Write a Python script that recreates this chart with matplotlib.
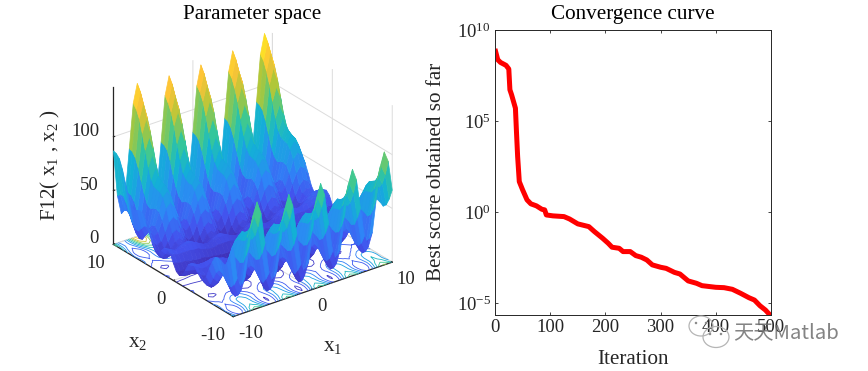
import numpy as np
from matplotlib import pyplot as plt
from matplotlib.colors import LinearSegmentedColormap
from matplotlib.patches import Ellipse
from matplotlib.ticker import LogFormatterMathtext

plt.rcParams['font.family'] = ['Liberation Serif', 'Noto Sans CJK SC']
plt.rcParams['mathtext.fontset'] = 'custom'
plt.rcParams['mathtext.rm'] = 'Liberation Serif'
plt.rcParams['mathtext.it'] = 'Liberation Serif'
plt.rcParams['mathtext.default'] = 'regular'
plt.rcParams['axes.unicode_minus'] = False

# convergence curve (log10 of the score)
iterations = [1, 5, 10, 20, 25, 27, 30, 37, 39, 41, 44, 50, 58, 65, 75, 85, 90, 93, 105, 125, 135, 150, 170, 180,
              195, 205, 212, 225, 232, 245, 255, 265, 275, 285, 300, 310, 325, 335, 350, 365, 375, 400, 415, 430,
              445, 460, 470, 480, 490, 500]
log_scores = [8.83, 8.37, 8.22, 8.06, 7.86, 6.72, 6.45, 5.71, 4.34, 3.06, 1.68, 1.23, 0.68, 0.46, 0.35, 0.16, 0.13,
              -0.15, -0.20, -0.24, -0.37, -0.64, -0.79, -1.06, -1.43, -1.70, -1.92, -1.98, -2.16, -2.16, -2.38,
              -2.47, -2.62, -2.89, -3.02, -3.08, -3.30, -3.39, -3.77, -3.90, -4.03, -4.12, -4.14, -4.23, -4.45,
              -4.69, -4.82, -5.13, -5.37, -5.70]

x_ticks_3d = [-10, 0, 10]
x_labels_3d = ['-10', '0', '10']
z_ticks_3d = [0, 50, 100]
z_labels_3d = ['0', '50', '100']
iter_ticks = [0, 100, 200, 300, 400, 500]

# surface heights, one row per x2 from -10 to 10, one column per x1 from -10 to 10, step 0.5
surface_rows = [
    [64,34,22,33,60,88,99,87,58,29,17,29,56,84,96,84,56,27,16,27,56,84,96,84,56,29,17,29,58,87,99,88,60,33,22,34,64,93,105,95,67],
    [53,27,16,25,50,74,84,73,47,22,11,21,46,71,81,70,45,20,9,20,45,70,81,71,46,21,11,22,47,73,84,74,50,25,16,27,53,79,90,81,57],
    [46,23,13,21,42,64,73,63,40,17,8,17,39,60,70,60,38,15,6,15,38,60,70,60,39,17,8,17,40,63,73,64,42,21,13,23,46,69,79,71,50],
    [43,23,14,21,40,59,67,58,38,18,9,17,36,56,63,55,36,16,8,16,36,55,63,56,36,17,9,18,38,58,67,59,40,21,14,23,43,64,73,66,47],
    [45,27,19,25,42,58,64,57,39,22,14,21,38,54,61,54,37,20,13,20,37,54,61,54,38,21,14,22,39,57,64,58,42,25,19,27,45,63,71,65,49],
    [46,31,24,29,43,57,63,56,41,26,19,25,39,54,60,53,38,24,18,24,38,53,60,54,39,25,19,26,41,56,63,57,43,29,24,31,46,62,69,64,50],
    [45,32,26,30,42,54,58,52,39,26,21,26,38,50,55,50,37,24,19,24,37,50,55,50,38,26,21,26,39,52,58,54,42,30,26,32,45,58,64,60,49],
    [39,28,23,26,36,46,50,45,34,23,18,22,32,42,47,42,31,21,16,21,31,42,47,42,32,22,18,23,34,45,50,46,36,26,23,28,39,51,56,53,43],
    [31,21,17,19,27,35,38,34,25,16,12,15,24,32,35,31,23,14,10,14,23,31,35,32,24,15,12,16,25,34,38,35,27,19,17,21,31,40,45,42,35],
    [22,14,11,13,19,26,28,24,17,9,6,8,15,22,25,22,14,7,4,7,14,22,25,22,15,8,6,9,17,24,28,26,19,13,11,14,22,30,34,32,26],
    [17,11,8,9,14,19,21,18,12,6,3,5,10,16,18,15,10,4,2,4,10,15,18,16,10,5,3,6,12,18,21,19,14,9,8,11,17,24,27,26,21],
    [18,12,10,11,14,18,19,17,12,7,5,7,10,14,16,14,10,5,4,5,10,14,16,14,10,7,5,7,12,17,19,18,14,11,10,12,18,23,25,25,21],
    [21,17,15,16,18,20,21,19,16,12,10,11,14,17,18,16,13,10,9,10,13,16,18,17,14,11,10,12,16,19,21,20,18,16,15,17,21,25,27,27,25],
    [25,22,20,20,22,23,24,22,20,17,16,16,18,20,21,19,17,15,14,15,17,19,21,20,18,16,16,17,20,22,24,23,22,20,20,22,25,28,30,30,29],
    [26,24,22,22,23,24,24,22,21,19,18,18,19,20,20,20,18,17,16,17,18,20,20,20,19,18,18,19,21,22,24,24,23,22,22,24,26,28,30,30,30],
    [23,21,20,20,20,20,19,19,17,16,15,15,16,16,16,16,15,14,14,14,15,16,16,16,16,15,15,16,17,19,19,20,20,20,20,21,23,24,26,26,27],
    [16,15,14,14,13,13,12,12,11,10,10,9,9,9,9,9,9,8,8,8,9,9,9,9,9,9,10,10,11,12,12,13,13,14,14,15,16,18,19,20,20],
    [10,9,9,8,7,7,6,6,5,4,4,4,3,3,3,3,2,2,2,2,2,3,3,3,3,4,4,4,5,6,6,7,7,8,9,9,10,11,12,13,14],
    [8,7,6,6,5,4,4,3,2,2,2,1,1,1,0,0,0,0,0,0,0,0,0,1,1,1,2,2,2,3,4,4,5,6,6,7,8,9,10,11,12],
    [10,9,9,8,7,7,6,6,5,4,4,4,3,3,3,3,2,2,2,2,2,3,3,3,3,4,4,4,5,6,6,7,7,8,9,9,10,11,12,13,14],
    [16,15,14,14,13,13,12,12,11,10,10,9,9,9,9,9,9,8,8,8,9,9,9,9,9,9,10,10,11,12,12,13,13,14,14,15,16,18,19,20,20],
    [23,21,20,20,20,20,19,19,17,16,15,15,16,16,16,16,15,14,14,14,15,16,16,16,16,15,15,16,17,19,19,20,20,20,20,21,23,24,26,26,27],
    [26,24,22,22,23,24,24,22,21,19,18,18,19,20,20,20,18,17,16,17,18,20,20,20,19,18,18,19,21,22,24,24,23,22,22,24,26,28,30,30,30],
    [25,22,20,20,22,23,24,22,20,17,16,16,18,20,21,19,17,15,14,15,17,19,21,20,18,16,16,17,20,22,24,23,22,20,20,22,25,28,30,30,29],
    [21,17,15,16,18,20,21,19,16,12,10,11,14,17,18,16,13,10,9,10,13,16,18,17,14,11,10,12,16,19,21,20,18,16,15,17,21,25,27,27,25],
    [18,12,10,11,14,18,19,17,12,7,5,7,10,14,16,14,10,5,4,5,10,14,16,14,10,7,5,7,12,17,19,18,14,11,10,12,18,23,25,25,21],
    [17,11,8,9,14,19,21,18,12,6,3,5,10,16,18,15,10,4,2,4,10,15,18,16,10,5,3,6,12,18,21,19,14,9,8,11,17,24,27,26,21],
    [22,14,11,13,19,26,28,24,17,9,6,8,15,22,25,22,14,7,4,7,14,22,25,22,15,8,6,9,17,24,28,26,19,13,11,14,22,30,34,32,26],
    [31,21,17,19,27,35,38,34,25,16,12,15,24,32,35,31,23,14,10,14,23,31,35,32,24,15,12,16,25,34,38,35,27,19,17,21,31,40,45,42,35],
    [39,28,23,26,36,46,50,45,34,23,18,22,32,42,47,42,31,21,16,21,31,42,47,42,32,22,18,23,34,45,50,46,36,26,23,28,39,51,56,53,43],
    [45,32,26,30,42,54,58,52,39,26,21,26,38,50,55,50,37,24,19,24,37,50,55,50,38,26,21,26,39,52,58,54,42,30,26,32,45,58,64,60,49],
    [46,31,24,29,43,57,63,56,41,26,19,25,39,54,60,53,38,24,18,24,38,53,60,54,39,25,19,26,41,56,63,57,43,29,24,31,46,62,69,64,50],
    [45,27,19,25,42,58,64,57,39,22,14,21,38,54,61,54,37,20,13,20,37,54,61,54,38,21,14,22,39,57,64,58,42,25,19,27,45,63,71,65,49],
    [43,23,14,21,40,59,67,58,38,18,9,17,36,56,63,55,36,16,8,16,36,55,63,56,36,17,9,18,38,58,67,59,40,21,14,23,43,64,73,66,47],
    [46,23,13,21,42,64,73,63,40,17,8,17,39,60,70,60,38,15,6,15,38,60,70,60,39,17,8,17,40,63,73,64,42,21,13,23,46,69,79,71,50],
    [53,27,16,25,50,74,84,73,47,22,11,21,46,71,81,70,45,20,9,20,45,70,81,71,46,21,11,22,47,73,84,74,50,25,16,27,53,79,90,81,57],
    [64,34,22,33,60,88,99,87,58,29,17,29,56,84,96,84,56,27,16,27,56,84,96,84,56,29,17,29,58,87,99,88,60,33,22,34,64,93,105,95,67],
    [75,42,29,41,71,102,114,101,69,37,24,36,68,99,111,98,67,35,22,35,67,98,111,99,68,36,24,37,69,101,114,102,71,41,29,42,75,107,121,109,79],
    [83,47,32,45,79,114,127,112,77,42,27,41,76,110,124,110,75,40,26,40,75,110,124,110,76,41,27,42,77,112,127,114,79,45,32,47,83,118,134,120,87],
    [86,47,31,46,83,121,136,120,81,42,26,41,79,117,133,117,78,40,24,40,78,117,133,117,79,41,26,42,81,120,136,121,83,46,31,47,86,126,142,127,90],
    [87,44,26,43,84,125,142,124,82,39,21,38,80,122,139,121,79,37,20,37,79,121,139,122,80,38,21,39,82,124,142,125,84,43,26,44,87,130,148,132,91],
]

parula = LinearSegmentedColormap.from_list('parula', ['#3E26A8', '#4352EE', '#2E86F7', '#12B1D6', '#37C897',
                                                      '#ACC739', '#FEC337', '#F9FB15'])
dark = '#262626'
W, H = 868, 371

fig = plt.figure(figsize=(W / 100, H / 100), dpi=100)

# left panel
ax = fig.add_axes([0.0248, -0.0462, 0.52, 1.12], projection='3d', computed_zorder=False)
ax.set_proj_type('ortho')
ax.view_init(elev=27, azim=-127)
ax.set_box_aspect((1, 1, 0.885), zoom=0.776)

grid_x = np.arange(-10, 10.5, 0.5)
X, Y = np.meshgrid(grid_x, grid_x)
Z = np.array(surface_rows, dtype=float)

ax.contour(X, Y, Z, levels=np.arange(10, 150, 15), zdir='z', offset=0, cmap=parula, vmin=0, vmax=148,
           linewidths=0.6, zorder=1)
surf = ax.plot_surface(X, Y, Z, rstride=1, cstride=1, cmap=parula, vmin=0, vmax=148, linewidth=0.5, zorder=2)
surf.set_edgecolor('face')

ax.set_xlim(-10, 10, view_margin=0)
ax.set_ylim(-10, 10, view_margin=0)
ax.set_zlim(0, 146, view_margin=0)
ax.set_xticks(x_ticks_3d, labels=x_labels_3d, ha='left')
ax.set_yticks(x_ticks_3d, labels=x_labels_3d, ha='right')
ax.set_zticks(z_ticks_3d, labels=z_labels_3d, ha='right', va='baseline')
ax.tick_params(labelsize=13.5, colors=dark, pad=0)
ax.xaxis.set_tick_params(pad=-2)
for axis in (ax.xaxis, ax.yaxis, ax.zaxis):
    axis.set_pane_color((1, 1, 1, 1))
    axis.pane.set_edgecolor('none')
    axis.line.set_color(dark)
    axis.line.set_linewidth(0.9)
    axis._axinfo['grid'].update(color='#dcdcdc', linewidth=0.7)
    axis._axinfo['tick'].update(inward_factor=0.0, outward_factor=0.1)

fig.text(252 / W, 1 - 15 / H, 'Parameter space', ha='center', va='center', fontsize=15.2)
fig.text(50 / W, 1 - 165 / H, 'F12( x$_1$ , x$_2$ )', rotation=90, ha='center', va='center', fontsize=15.2, color=dark)
fig.text(138 / W, 1 - 343 / H, 'x$_2$', ha='center', va='center', fontsize=15.2, color=dark)
fig.text(333 / W, 1 - 347 / H, 'x$_1$', ha='center', va='center', fontsize=15.2, color=dark)

# right panel
ax2 = fig.add_axes([495 / W, 1 - 315 / H, 276 / W, 285 / H])
ax2.semilogy(iterations, [10.0 ** v for v in log_scores], color='#ff0000', linewidth=3.6)
ax2.set_xlim(0, 500)
ax2.set_ylim(10.0 ** -5.64, 1e10)
ax2.set_xticks(iter_ticks)
ax2.set_yticks([1e-5, 1e0, 1e5, 1e10])
ax2.yaxis.set_major_formatter(LogFormatterMathtext())
ax2.minorticks_off()
ax2.tick_params(direction='in', length=2.5, width=0.6, top=True, right=True, labelsize=13.5, colors=dark, pad=3)
for spine in ax2.spines.values():
    spine.set_linewidth(0.7)
    spine.set_color(dark)
fig.text(633 / W, 1 - 15 / H, 'Convergence curve', ha='center', va='center', fontsize=15.2)
fig.text(633 / W, 1 - 359 / H, 'Iteration', ha='center', va='center', fontsize=15.2, color=dark)
fig.text(436 / W, 1 - 172 / H, 'Best score obtained so far', rotation=90, ha='center', va='center', fontsize=15.2,
         color=dark)

# watermark
for cx, cy, w, h in [(701, 326, 24, 20), (716, 337, 26, 21)]:
    fig.add_artist(Ellipse((cx / W, 1 - cy / H), w / W, h / H, transform=fig.transFigure, facecolor='none',
                           edgecolor='#b5b5b5', linewidth=0.9))
for cx, cy in [(696, 323), (706, 323), (710, 334), (721, 334)]:
    fig.add_artist(Ellipse((cx / W, 1 - cy / H), 2.5 / W, 2.5 / H, transform=fig.transFigure, facecolor='#8a8a8a',
                           edgecolor='none'))
fig.text(733 / W, 1 - 333 / H, '天天Matlab', ha='left', va='center', fontsize=14.6, color='#6e6e6e', alpha=0.85,
         family=['Noto Sans CJK SC', 'DejaVu Sans'])

fig.savefig('out.png', dpi=100)
